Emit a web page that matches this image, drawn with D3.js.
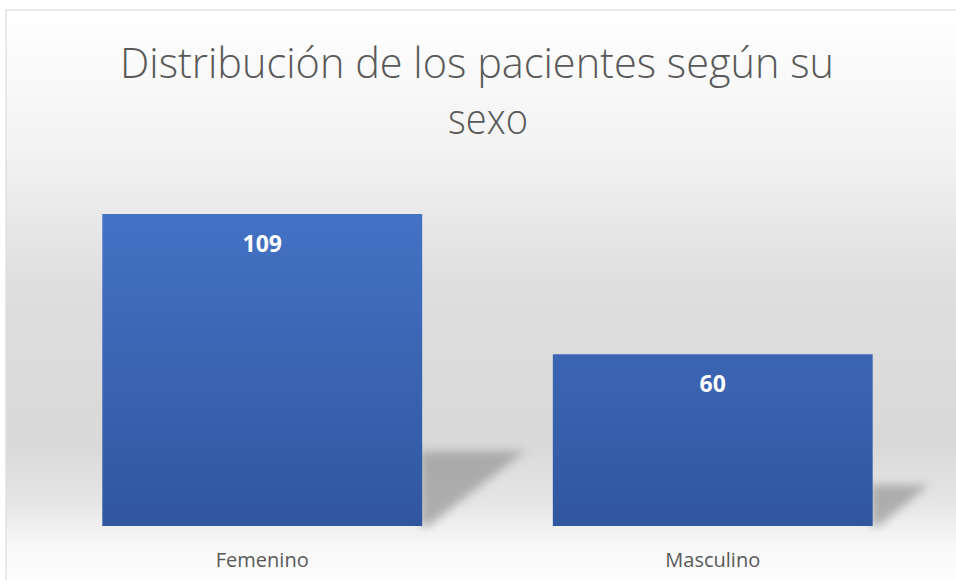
<!DOCTYPE html>
<html>
<head>
<meta charset="utf-8">
<script src="https://cdn.jsdelivr.net/npm/d3@7"></script>
<style>
  html, body { margin: 0; padding: 0; background: #fff; }
  svg { display: block; }
</style>
</head>
<body>
<div id="chart"></div>
<script>
'use strict';

// data
var categories = ['Femenino', 'Masculino'];
var values = [109, 60];
var titleLines = ['Distribución de los pacientes según su', 'sexo'];

var width = 956,
  height = 580,
  plot = { left: 37, right: 938, top: 214, bottom: 526 };

var svg = d3.select('#chart').append('svg')
  .attr('width', width)
  .attr('height', height);

var defs = svg.append('defs');

// background gradient, white top -> gray middle -> white bottom
var bg = defs.append('linearGradient')
  .attr('id', 'bg').attr('x1', 0).attr('y1', 0).attr('x2', 0).attr('y2', 1);
[[0, '#ffffff'], [0.25, '#f2f2f2'], [0.48, '#dedede'], [0.75, '#d9d9d9'],
 [0.85, '#e6e6e6'], [0.92, '#f7f7f7'], [1, '#ffffff']].forEach(function(s) {
  bg.append('stop').attr('offset', s[0]).attr('stop-color', s[1]);
});

var barGrad = defs.append('linearGradient')
  .attr('id', 'barGrad').attr('x1', 0).attr('x2', 0)
  .attr('gradientUnits', 'userSpaceOnUse')
  .attr('y1', plot.top).attr('y2', plot.bottom);
barGrad.append('stop').attr('offset', 0).attr('stop-color', '#4472c4');
barGrad.append('stop').attr('offset', 1).attr('stop-color', '#30569f');

defs.append('filter').attr('id', 'blur')
  .attr('x', '-30%').attr('y', '-30%').attr('width', '160%').attr('height', '160%')
  .append('feGaussianBlur').attr('stdDeviation', 5);

svg.append('rect')
  .attr('x', 6).attr('y', 10)
  .attr('width', width).attr('height', height)
  .attr('fill', 'url(#bg)')
  .attr('stroke', '#dcdcdc')
  .attr('stroke-width', 1.2);

// title
var title = svg.append('g');
titleLines.forEach(function(t, i) {
  title.append('text')
    .attr('x', i === 0 ? 477 : 488)
    .attr('y', 78 + i * 56)
    .attr('text-anchor', 'middle')
    .attr('font-family', 'Open Sans')
    .attr('font-weight', 300)
    .attr('font-size', 42)
    .attr('fill', '#595959')
    .attr('textLength', i === 0 ? 714 : 80)
    .attr('lengthAdjust', 'spacingAndGlyphs')
    .text(t);
});

var x = d3.scaleBand()
  .domain(categories)
  .range([plot.left, plot.right])
  .paddingInner(0.29)
  .paddingOuter(0.145);

var y = d3.scaleLinear()
  .domain([0, 109])
  .range([plot.bottom, plot.top]);

// shadows
svg.append('g').selectAll('path')
  .data(values)
  .enter().append('path')
  .attr('filter', 'url(#blur)')
  .attr('fill', '#9a9a9a')
  .attr('opacity', 0.75)
  .attr('d', function(d, i) {
    var x0 = x(categories[i]) + x.bandwidth(),
      h = y(0) - y(d),
      top = y(0) - h * 0.24,
      reach = h * 0.33;
    return 'M' + (x0 - 2) + ',' + top +
      'L' + (x0 + reach) + ',' + top +
      'L' + (x0 + 6) + ',' + y(0) +
      'L' + (x0 - 2) + ',' + y(0) + 'Z';
  });

// bars
svg.append('g').selectAll('rect')
  .data(values)
  .enter().append('rect')
  .attr('x', function(d, i) { return x(categories[i]); })
  .attr('y', function(d) { return y(d); })
  .attr('width', x.bandwidth())
  .attr('height', function(d) { return y(0) - y(d); })
  .attr('fill', 'url(#barGrad)');

// value labels
svg.append('g').selectAll('text')
  .data(values)
  .enter().append('text')
  .attr('x', function(d, i) { return x(categories[i]) + x.bandwidth() / 2; })
  .attr('y', function(d) { return y(d) + 38; })
  .attr('text-anchor', 'middle')
  .attr('font-family', 'Open Sans')
  .attr('font-weight', 700)
  .attr('font-size', 23)
  .attr('fill', '#ffffff')
  .text(function(d) { return d; });

// category axis
var axis = svg.append('g')
  .attr('transform', 'translate(0,' + plot.bottom + ')')
  .call(d3.axisBottom(x).tickSize(0).tickPadding(27));
axis.select('.domain').remove();
axis.selectAll('text')
  .attr('font-family', 'Open Sans')
  .attr('font-size', 20)
  .attr('fill', '#595959');
</script>
</body>
</html>
